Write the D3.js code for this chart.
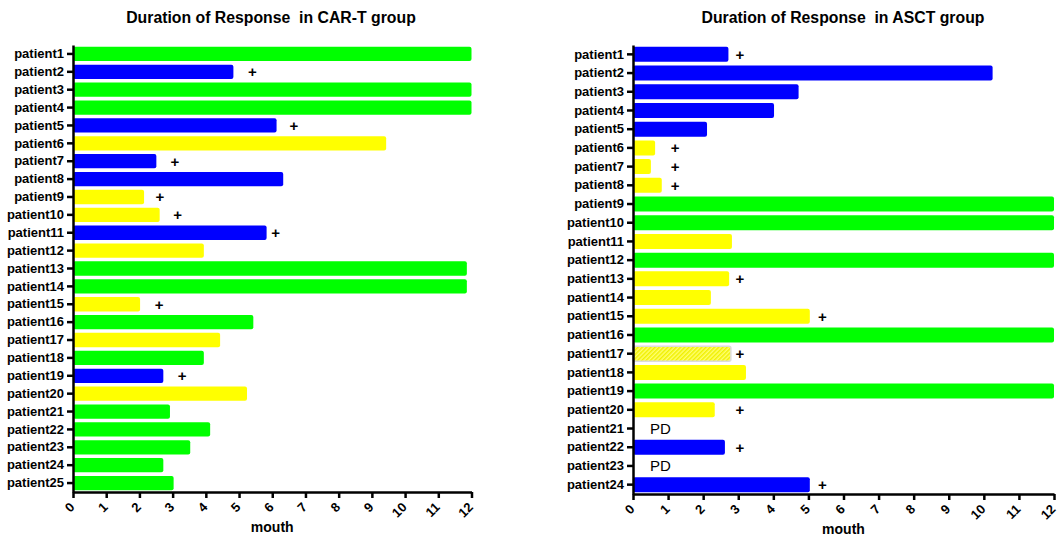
<!DOCTYPE html>
<html>
<head>
<meta charset="utf-8">
<script src="https://cdn.jsdelivr.net/npm/d3@7"></script>
<style>
  body { margin: 0; background: #fff; }
  svg { font-family: "Liberation Sans", Arial, sans-serif; }
</style>
</head>
<body>
<svg id="chart" width="1061" height="539"></svg>
<script>
// CAR-T group
var carPatients = ["patient1", "patient2", "patient3", "patient4", "patient5", "patient6", "patient7", "patient8", "patient9", "patient10",
    "patient11", "patient12", "patient13", "patient14", "patient15", "patient16", "patient17", "patient18", "patient19", "patient20",
    "patient21", "patient22", "patient23", "patient24", "patient25"];
var carMonths = [12, 4.83, 12, 12, 6.13, 9.43, 2.51, 6.33, 2.14, 2.61,
    5.83, 3.94, 11.86, 11.86, 2.02, 5.43, 4.43, 3.94, 2.72, 5.24,
    2.92, 4.13, 3.53, 2.72, 3.03];
var carGroup = ["g", "b", "g", "g", "b", "y", "b", "b", "y", "y",
    "b", "y", "g", "g", "y", "g", "y", "g", "b", "y",
    "g", "g", "g", "g", "g"];
// "+" markers: [patient, month position]
var carPlus = [["patient2", 5.4], ["patient5", 6.65], ["patient7", 3.07], ["patient9", 2.62], ["patient10", 3.15],
    ["patient11", 6.1], ["patient15", 2.59], ["patient19", 3.29]];

// ASCT group
var asctPatients = ["patient1", "patient2", "patient3", "patient4", "patient5", "patient6", "patient7", "patient8", "patient9", "patient10",
    "patient11", "patient12", "patient13", "patient14", "patient15", "patient16", "patient17", "patient18", "patient19", "patient20",
    "patient21", "patient22", "patient23", "patient24"];
var asctMonths = [2.72, 10.25, 4.72, 4.02, 2.11, 0.63, 0.51, 0.82, 12, 12,
    2.82, 12, 2.74, 2.22, 5.04, 12, 2.79, 3.22, 12, 2.33,
    0, 2.62, 0, 5.04];
var asctGroup = ["b", "b", "b", "b", "b", "y", "y", "y", "g", "g",
    "y", "g", "y", "y", "y", "g", "h", "y", "g", "y",
    "none", "b", "none", "b"];
var asctPlus = [["patient1", 3.05], ["patient6", 1.2], ["patient7", 1.2], ["patient8", 1.2], ["patient13", 3.05],
    ["patient15", 5.4], ["patient17", 3.05], ["patient20", 3.05], ["patient22", 3.05], ["patient24", 5.4]];
var asctPD = [["patient21", 0.78], ["patient23", 0.78]];

var monthTicks = [0, 1, 2, 3, 4, 5, 6, 7, 8, 9, 10, 11, 12];

var svg = d3.select("#chart");

var defs = svg.append("defs");
var pat = defs.append("pattern")
    .attr("id", "hatch")
    .attr("patternUnits", "userSpaceOnUse")
    .attr("width", 3)
    .attr("height", 3)
    .attr("patternTransform", "rotate(45)");
pat.append("rect").attr("width", 3).attr("height", 3).attr("fill", "#ffff70");
pat.append("rect").attr("width", 1.5).attr("height", 3).attr("fill", "#f0f000");

var color = d3.scaleOrdinal()
    .domain(["g", "b", "y", "h", "none"])
    .range(["#00ff00", "#0000ff", "#ffff00", "url(#hatch)", "none"]);

function drawPanel(opt) {
    var x = d3.scaleLinear().domain([0, 12]).range([opt.x0, opt.x1]);
    var y = d3.scaleBand().domain(opt.patients).range([opt.y0, opt.y1]).paddingInner(0.2).paddingOuter(0.1);

    var g = svg.append("g");

    g.append("text")
        .attr("x", opt.titleX)
        .attr("y", 23)
        .attr("text-anchor", "middle")
        .attr("font-size", 15.8)
        .attr("font-weight", "bold")
        .style("white-space", "pre")
        .text(opt.title);

    var data = opt.patients.map(function(p, i) {
        return { name: p, value: opt.months[i], group: opt.group[i] };
    });

    g.selectAll(".bar")
        .data(data.filter(function(d) { return d.value > 0; }))
        .enter().append("rect")
        .attr("x", x(0))
        .attr("y", function(d) { return y(d.name); })
        .attr("width", function(d) { return x(d.value) - x(0); })
        .attr("height", y.bandwidth())
        .attr("rx", 2)
        .attr("fill", function(d) { return color(d.group); })
        .attr("stroke", function(d) { return d.group == "h" ? "#dcdcdc" : "none"; })
        .attr("stroke-width", 1.5);

    g.selectAll(".plus")
        .data(opt.plus)
        .enter().append("text")
        .attr("x", function(d) { return x(d[1]); })
        .attr("y", function(d) { return y(d[0]) + y.bandwidth() / 2; })
        .attr("dy", "0.36em")
        .attr("text-anchor", "middle")
        .attr("font-size", 15)
        .attr("font-weight", "bold")
        .text("+");

    g.selectAll(".pd")
        .data(opt.pd || [])
        .enter().append("text")
        .attr("x", function(d) { return x(d[1]); })
        .attr("y", function(d) { return y(d[0]) + y.bandwidth() / 2; })
        .attr("dy", "0.36em")
        .attr("text-anchor", "middle")
        .attr("font-size", 15)
        .text("PD");

    var yAxis = g.append("g")
        .attr("transform", "translate(" + x(0) + ",0)")
        .call(d3.axisLeft(y).tickSize(6).tickSizeOuter(0).tickPadding(3));
    yAxis.selectAll("text")
        .attr("font-size", 13)
        .attr("font-weight", "bold")
        .attr("fill", "#000");
    yAxis.selectAll("line").attr("stroke-width", 2.5);
    yAxis.select(".domain").attr("stroke-width", 2.5);

    var xAxis = g.append("g")
        .attr("transform", "translate(0," + opt.y1 + ")")
        .call(d3.axisBottom(x).tickValues(monthTicks).tickSize(6).tickSizeOuter(0));
    xAxis.selectAll("text")
        .attr("font-size", 13)
        .attr("font-weight", "bold")
        .attr("fill", "#000")
        .attr("text-anchor", "end")
        .attr("x", 0)
        .attr("y", 0)
        .attr("dy", "0.1em")
        .attr("transform", "translate(1,15) rotate(-45)");
    xAxis.selectAll("line").attr("stroke-width", 2.5);
    xAxis.select(".domain").attr("stroke-width", 2.5);

    g.append("text")
        .attr("x", (opt.x0 + opt.x1) / 2)
        .attr("y", opt.y1 + 40)
        .attr("text-anchor", "middle")
        .attr("font-size", 14)
        .attr("font-weight", "bold")
        .text("mouth");
}

drawPanel({
    title: "Duration of Response  in CAR-T group",
    titleX: 271,
    patients: carPatients,
    months: carMonths,
    group: carGroup,
    plus: carPlus,
    x0: 73, x1: 471.5,
    y0: 45, y1: 492
});

drawPanel({
    title: "Duration of Response  in ASCT group",
    titleX: 843,
    patients: asctPatients,
    months: asctMonths,
    group: asctGroup,
    plus: asctPlus,
    pd: asctPD,
    x0: 633, x1: 1054,
    y0: 45, y1: 494
});
</script>
</body>
</html>
